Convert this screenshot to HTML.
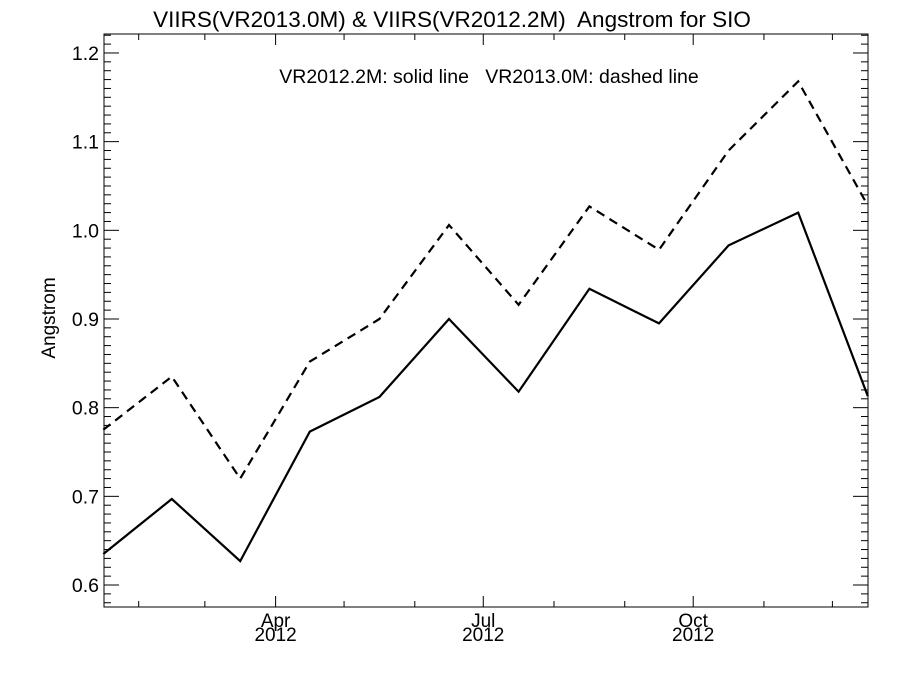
<!DOCTYPE html>
<html><head><meta charset="utf-8"><style>
html,body{margin:0;padding:0;background:#fff;}
svg{display:block;font-family:"Liberation Sans",Helvetica,sans-serif;}
</style></head><body>
<svg id="chart" width="900" height="675" viewBox="0 0 900 675">
<text x="452" y="27" text-anchor="middle" font-size="22.5" xml:space="preserve">VIIRS(VR2013.0M) &amp; VIIRS(VR2012.2M)  Angstrom for SIO</text>
<text x="489" y="83" text-anchor="middle" font-size="19.5" xml:space="preserve">VR2012.2M: solid line   VR2013.0M: dashed line</text>
<text transform="translate(55,318) rotate(-90)" text-anchor="middle" font-size="19">Angstrom</text>
<g id="axes"></g>
<g id="series"></g>
</svg>
<script>
const monthStarts=[0,31,60,91,121,152,182,213,244,274,305,335,366];
const solidValues=[0.635,0.697,0.627,0.773,0.812,0.900,0.818,0.934,0.895,0.983,1.020,0.813];
const dashedValues=[0.775,0.835,0.720,0.852,0.900,1.006,0.916,1.027,0.978,1.090,1.168,1.028];
const yTicks=[0.6,0.7,0.8,0.9,1.0,1.1,1.2];
const yTickLabels=["0.6","0.7","0.8","0.9","1.0","1.1","1.2"];
const xLabelMonths=[3,6,9];
const xTickLabels=["Apr","Jul","Oct"];

const L=104,R=868,T=34,B=607;
const D0=15.8,D1=350.6,Y0=0.5752,Y1=1.2214;
const xs=d=>L+(d-D0)/(D1-D0)*(R-L);
const ys=v=>B-(v-Y0)/(Y1-Y0)*(B-T);
const NS="http://www.w3.org/2000/svg";
const axes=document.getElementById('axes'),ser=document.getElementById('series');
function mk(p,tag,at){const e=document.createElementNS(NS,tag);for(const k in at)e.setAttribute(k,at[k]);p.appendChild(e);return e;}

const frame=mk(axes,'rect',{x:L,y:T,width:R-L,height:B-T,fill:'none',stroke:'#000','stroke-width':1});



for(let i=0;i<=70;i++){const v=Math.round((0.58+i*0.01)*100)/100;if(v<Y0||v>Y1)continue;
 const major=yTicks.some(t=>Math.abs(t-v)<1e-6);const len=major?15:7;const y=ys(v);
 const t1=mk(axes,'line',{x1:L,x2:L+len,y1:y,y2:y,stroke:'#000'});
 
 
 const t2=mk(axes,'line',{x1:R,x2:R-len,y1:y,y2:y,stroke:'#000'});
 
 }
yTicks.forEach((v,i)=>{const t=mk(axes,'text',{x:L-5,y:ys(v)+7,'text-anchor':'end','font-size':19.5});t.textContent=yTickLabels[i];
 
 });
for(let m=1;m<=11;m++){const x=xs(monthStarts[m]);const major=xLabelMonths.includes(m);const len=major?11:6;
 const a=mk(axes,'line',{x1:x,x2:x,y1:B,y2:B-len,stroke:'#000'});
 
 
 const b=mk(axes,'line',{x1:x,x2:x,y1:T,y2:T+len,stroke:'#000'});
 
 }
xLabelMonths.forEach((m,i)=>{const x=xs(monthStarts[m]);
 const t=mk(axes,'text',{x:x,y:B+20,'text-anchor':'middle','font-size':19});t.textContent=xTickLabels[i];
 
 
 const t2=mk(axes,'text',{x:x,y:B+34,'text-anchor':'middle','font-size':19});t2.textContent='2012';
 
 });
function pts(vals){return vals.map((v,i)=>xs((monthStarts[i]+monthStarts[i+1])/2).toFixed(1)+','+ys(v).toFixed(1)).join(' ');}
const s=mk(ser,'polyline',{points:pts(solidValues),fill:'none',stroke:'#000','stroke-width':2.2});


const d=mk(ser,'polyline',{points:pts(dashedValues),fill:'none',stroke:'#000','stroke-width':2.2,'stroke-dasharray':'9,6'});


</script>
</body></html>
